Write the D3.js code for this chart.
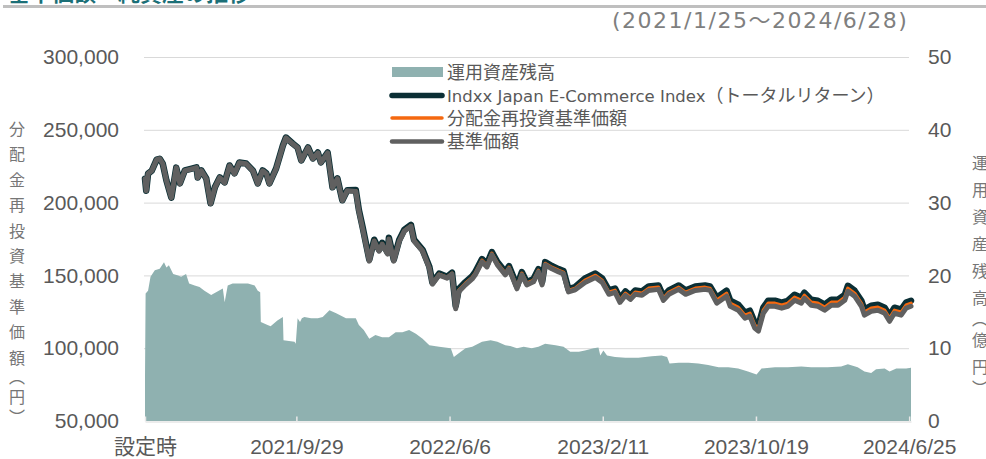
<!DOCTYPE html>
<html>
<head>
<meta charset="utf-8">
<script src="https://cdn.jsdelivr.net/npm/d3@7"></script>
<style>
  html, body { margin: 0; padding: 0; background: #fff; overflow: hidden; }
</style>
</head>
<body>
<div id="chart"></div>
<script>
// ---- data ----
const navDates = [
  "2021-01-25","2021-01-27","2021-01-30","2021-02-05","2021-02-13","2021-02-18","2021-02-23","2021-03-01","2021-03-09","2021-03-17",
  "2021-03-23","2021-03-31","2021-04-13","2021-04-19","2021-04-21","2021-04-27","2021-05-05","2021-05-12","2021-05-19","2021-05-27",
  "2021-06-04","2021-06-12","2021-06-20","2021-06-28","2021-07-09","2021-07-20","2021-07-28","2021-08-05","2021-08-11","2021-08-16",
  "2021-08-27","2021-09-07","2021-09-12","2021-09-23","2021-10-01","2021-10-07","2021-10-18","2021-10-26","2021-11-03","2021-11-08",
  "2021-11-19","2021-11-27","2021-12-05","2021-12-13","2021-12-21","2022-01-04","2022-01-09","2022-01-15","2022-01-26","2022-02-03",
  "2022-02-11","2022-02-16","2022-02-25","2022-02-27","2022-03-07","2022-03-16","2022-03-24","2022-04-04","2022-04-09","2022-04-23",
  "2022-05-04","2022-05-09","2022-05-20","2022-06-02","2022-06-10","2022-06-16","2022-06-21","2022-07-02","2022-07-13","2022-07-18",
  "2022-07-29","2022-08-06","2022-08-14","2022-08-23","2022-09-05","2022-09-11","2022-09-24","2022-10-02","2022-10-10","2022-10-21",
  "2022-10-29","2022-11-04","2022-11-09","2022-11-20","2022-12-01","2022-12-09","2022-12-17","2022-12-28","2023-01-13","2023-01-30",
  "2023-02-10","2023-02-21","2023-03-03","2023-03-11","2023-03-20","2023-03-28","2023-04-05","2023-04-16","2023-04-27","2023-05-13",
  "2023-05-21","2023-05-30","2023-06-15","2023-06-26","2023-07-12","2023-07-28","2023-08-05","2023-08-16","2023-09-01","2023-09-07",
  "2023-09-20","2023-10-01","2023-10-09","2023-10-17","2023-10-23","2023-10-31","2023-11-08","2023-11-19","2023-11-30","2023-12-10",
  "2023-12-21","2024-01-01","2024-01-06","2024-01-17","2024-01-28","2024-02-08","2024-02-19","2024-03-01","2024-03-12","2024-03-17",
  "2024-03-28","2024-04-08","2024-04-13","2024-04-24","2024-05-05","2024-05-16","2024-05-24","2024-06-01","2024-06-12","2024-06-20",
  "2024-06-28"
];

// Indxx Japan E-Commerce Index (total return), yen
const indexValues = [
  216400,208200,219900,221900,229500,230100,226700,215100,203400,224000,
  213200,222100,223500,224200,217300,222100,216600,199500,210500,217300,
  213900,225500,220100,227600,226900,222100,213200,222100,220100,213200,
  223500,239200,244700,240600,237900,229000,237900,230300,234400,227600,
  234400,210500,216600,201600,208400,208700,195000,183400,160800,174500,
  167600,172400,165600,175800,160800,174500,181300,184700,174500,167600,
  156000,145000,151200,149100,151900,129000,140600,145400,149500,152300,
  161200,157700,166000,159100,152300,156400,142700,152300,145400,147500,
  154300,145400,159100,156400,154300,153000,140600,142000,147900,151300,
  147900,139700,141000,134200,139000,136200,139700,139000,142400,143100,
  135500,139700,143100,139700,142400,143100,142400,134700,139500,132600,
  129900,124400,125800,117600,115500,127800,132600,132600,131300,132600,
  136700,134700,138100,133300,132600,129900,133300,133300,136700,142900,
  139500,132600,126500,129200,129900,127800,122300,127800,126500,131300,
  132600
];

// 分配金再投資基準価額, yen
const reinvestValues = [
  216400,208200,219900,221900,229500,230100,226700,215100,203400,224000,
  213000,221900,223300,224000,217100,221900,216400,199300,210300,217100,
  213700,225300,219900,227400,226700,221900,213000,221900,219900,213000,
  223300,239000,244500,240400,237700,228800,237700,230100,234200,227400,
  234200,210300,216400,201400,208200,208200,194500,182900,160300,174000,
  167100,171900,165100,175300,160300,174000,180800,184200,174000,167100,
  155500,144500,150700,148600,151400,128100,139700,144500,148600,151400,
  160300,156800,165100,158200,151400,155500,141800,151400,144500,146600,
  153400,144500,158200,155500,153400,152100,139700,141100,146600,150000,
  146600,138400,139700,132900,137700,134900,138400,137700,141100,141800,
  134200,138400,141800,138400,141100,141800,141100,132900,137700,130800,
  128100,122600,124000,115800,113700,126000,130800,130800,129500,130800,
  134900,132900,136300,131500,130800,128100,131500,131500,134900,141100,
  137700,130800,124700,127400,128100,126000,120500,126000,124700,129500,
  130800
];

// 基準価額, yen
const navValues = [
  216400,208200,219900,221900,229500,230100,226700,215100,203400,224000,
  213000,221900,223300,224000,217100,221900,216400,199300,210300,217100,
  213700,225300,219900,227400,226700,221900,213000,221900,219900,213000,
  223300,239000,244500,240400,237700,228800,237700,230100,234200,227400,
  234200,210300,216400,201400,208200,207700,194000,182400,159800,173500,
  166600,171400,164600,174800,159800,173500,180300,183700,173500,166600,
  155000,144000,150200,148100,150900,127100,138700,143500,147600,150400,
  159300,155800,164100,157200,150400,154500,140800,150400,143500,145600,
  152400,143500,157200,154500,152400,151100,138700,140100,145200,148600,
  145200,137000,138300,131500,136300,133500,137000,136300,139700,140400,
  132800,137000,140400,137000,139700,140400,139700,130900,135700,128800,
  126100,120600,122000,113800,111700,124000,128800,128800,127500,128800,
  132900,130900,134300,129500,128800,126100,129500,129500,132900,139100,
  135700,128800,122700,125400,126100,124000,118500,124000,122700,127500,
  128800
];

// 運用資産残高 (億円)
const aumDates = [
  "2021-01-25","2021-01-26","2021-01-30","2021-02-03","2021-02-10","2021-02-18","2021-02-25","2021-03-01","2021-03-05","2021-03-12",
  "2021-03-20","2021-03-25","2021-04-02","2021-04-07","2021-04-16","2021-04-24","2021-05-02","2021-05-13","2021-05-21","2021-06-01",
  "2021-06-04","2021-06-09","2021-06-17","2021-06-28","2021-07-12","2021-07-23","2021-07-28","2021-08-01","2021-08-02","2021-08-13",
  "2021-08-18","2021-08-29","2021-09-07","2021-09-08","2021-09-26","2021-09-28","2021-10-01","2021-10-05","2021-10-08","2021-10-12",
  "2021-10-23","2021-11-03","2021-11-11","2021-11-22","2021-12-03","2021-12-19","2022-01-04","2022-01-09","2022-01-17","2022-01-26",
  "2022-02-05","2022-02-16","2022-02-27","2022-03-10","2022-03-21","2022-04-01","2022-04-12","2022-04-23","2022-05-04","2022-05-20",
  "2022-06-08","2022-06-13","2022-06-21","2022-07-02","2022-07-13","2022-07-29","2022-08-12","2022-08-23","2022-09-05","2022-09-13",
  "2022-09-24","2022-10-05","2022-10-18","2022-10-29","2022-11-09","2022-11-26","2022-12-09","2022-12-20","2023-01-03","2023-01-13",
  "2023-01-27","2023-02-04","2023-02-07","2023-02-12","2023-02-18","2023-03-03","2023-03-20","2023-04-10","2023-05-02","2023-05-18",
  "2023-05-27","2023-05-31","2023-06-15","2023-07-01","2023-07-17","2023-08-02","2023-08-19","2023-09-04","2023-09-20","2023-10-06",
  "2023-10-20","2023-10-28","2023-11-19","2023-12-10","2024-01-01","2024-01-17","2024-02-13","2024-03-06","2024-03-17","2024-04-02",
  "2024-04-13","2024-04-24","2024-05-02","2024-05-16","2024-05-24","2024-06-04","2024-06-20","2024-06-28"
];
const aumValues = [
  6.1,17.5,17.9,19.8,20.7,20.9,21.8,21.1,21.4,20.2,
  20.0,19.8,20.2,18.9,18.6,18.4,17.9,17.3,17.7,18.2,
  16.3,18.6,18.9,18.9,18.9,18.6,17.9,17.7,13.6,13.2,
  13.0,13.8,14.3,11.1,10.9,10.6,14.1,13.6,14.1,14.3,
  14.1,14.1,14.3,15.2,14.8,14.1,14.1,13.2,12.5,11.3,
  11.8,11.5,11.5,12.2,12.2,12.5,12.0,11.3,10.4,10.2,
  10.0,8.8,9.3,10.0,10.2,10.9,11.1,10.9,10.4,10.3,
  10.0,10.2,10.0,10.2,10.6,10.4,10.2,9.5,9.5,9.7,
  10.0,10.1,9.0,9.7,9.0,8.8,8.7,8.7,8.9,9.0,
  8.8,7.9,8.0,8.0,7.9,7.7,7.4,7.4,7.2,6.8,
  6.4,7.2,7.4,7.4,7.5,7.4,7.4,7.5,7.8,7.4,
  6.8,6.6,7.1,7.2,6.8,7.2,7.2,7.3
];

const leftTicks = [50000, 100000, 150000, 200000, 250000, 300000];
const rightTicks = [0, 10, 20, 30, 40, 50];
const xTickDates = ["2021-01-25", "2021-09-29", "2022-06-06", "2023-02-11", "2023-10-19", "2024-06-25"];
const xTickLabels = ["設定時", "2021/9/29", "2022/6/6", "2023/2/11", "2023/10/19", "2024/6/25"];
const legendLabels = ["運用資産残高", "Indxx Japan E-Commerce Index（トータルリターン）", "分配金再投資基準価額", "基準価額"];
const titleText = "基準価額・純資産の推移";
const periodText = "(2021/1/25～2024/6/28)";
const leftTitle = "分配金再投資基準価額︵円︶";
const rightTitle = "運用資産残高︵億円︶";

// ---- frame ----
const width = 986, height = 459,
  plot = { left: 145, right: 911, top: 57, bottom: 421 },
  colors = { aum: "#8fb1b0", index: "#0b2f35", reinvest: "#f5680f", nav: "#606060", grid: "#d9d9d9", text: "#595959" },
  jpFont = "'Noto Sans CJK JP', sans-serif",
  numFont = "'Liberation Sans', 'Noto Sans CJK JP', sans-serif",
  latinFont = "'DejaVu Sans', 'Noto Sans CJK JP', sans-serif";

const parseDate = d3.timeParse("%Y-%m-%d");

const x = d3.scaleTime()
  .domain([parseDate("2021-01-25"), parseDate("2024-06-28")])
  .range([plot.left, plot.right]);
const yLeft = d3.scaleLinear().domain([50000, 300000]).range([plot.bottom, plot.top]);
const yRight = d3.scaleLinear().domain([0, 50]).range([plot.bottom, plot.top]);

const navRows = navDates.map((d, i) => ({
  date: parseDate(d), index: indexValues[i], reinvest: reinvestValues[i], nav: navValues[i]
}));
const aumRows = aumDates.map((d, i) => ({ date: parseDate(d), value: aumValues[i] }));

const svg = d3.select("#chart").append("svg")
  .attr("width", width)
  .attr("height", height)
  .style("display", "block")
  .style("background", "#fff");

// title strip (cut at top)
svg.append("text")
  .attr("x", 8).attr("y", 1)
  .attr("font-family", jpFont).attr("font-size", 22).attr("font-weight", 700)
  .attr("fill", "#1b6f77")
  .text(titleText);
svg.append("rect")
  .attr("x", 3).attr("y", 5).attr("width", width - 3).attr("height", 3)
  .attr("fill", "#bfbfbf");
svg.append("text")
  .attr("x", 612).attr("y", 28)
  .attr("font-family", latinFont).attr("font-size", 22)
  .attr("letter-spacing", 1.5)
  .attr("fill", "#7f7f7f")
  .text(periodText);

// gridlines
svg.append("g")
  .attr("transform", `translate(${plot.left - 1},0)`)
  .call(d3.axisLeft(yLeft).tickValues(leftTicks.slice(1)).tickSize(-(plot.right - plot.left - 1)).tickFormat(""))
  .call(g => g.select(".domain").remove())
  .call(g => g.selectAll("line").attr("stroke", colors.grid));

// AUM area (right axis)
svg.append("path")
  .datum(aumRows)
  .attr("fill", colors.aum)
  .attr("d", d3.area().x(d => x(d.date)).y0(yRight(0)).y1(d => yRight(d.value)));

// lines (left axis)
const series = [
  { key: "index", color: colors.index, w: 6.5, legendW: 5.5 },
  { key: "reinvest", color: colors.reinvest, w: 3.5, legendW: 3.5 },
  { key: "nav", color: colors.nav, w: 5, legendW: 4.5 }
];
series.forEach(s => {
  svg.append("path")
    .datum(navRows)
    .attr("fill", "none")
    .attr("stroke", s.color)
    .attr("stroke-width", s.w)
    .attr("stroke-linejoin", "round")
    .attr("stroke-linecap", "round")
    .attr("d", d3.line().x(d => x(d.date)).y(d => yLeft(d[s.key])));
});

// x axis
svg.append("g")
  .attr("transform", `translate(0,${plot.bottom + 0.5})`)
  .call(d3.axisBottom(x)
    .tickValues(xTickDates.map(parseDate))
    .tickFormat((d, i) => xTickLabels[i])
    .tickSizeInner(-5).tickSizeOuter(0).tickPadding(18))
  .call(g => g.select(".domain").attr("stroke", colors.grid))
  .call(g => g.selectAll(".tick line").attr("stroke", "#e8e8e8").attr("stroke-width", 1.5))
  .call(g => g.selectAll("text").attr("font-family", numFont).attr("font-size", 21).attr("fill", colors.text));

// left axis labels
svg.append("g")
  .attr("transform", `translate(${plot.left - 1},0)`)
  .call(d3.axisLeft(yLeft).tickValues(leftTicks).tickFormat(d3.format(",")).tickSize(0).tickPadding(25))
  .call(g => g.select(".domain").remove())
  .call(g => g.selectAll("text").attr("font-family", numFont).attr("font-size", 21).attr("fill", colors.text));

// right axis labels
svg.append("g")
  .attr("transform", `translate(${plot.right - 2},0)`)
  .call(d3.axisRight(yRight).tickValues(rightTicks).tickSize(0).tickPadding(19))
  .call(g => g.select(".domain").remove())
  .call(g => g.selectAll("text").attr("font-family", numFont).attr("font-size", 21).attr("fill", colors.text));

// vertical axis titles, one glyph per row
function verticalTitle(str, cx, startY, step) {
  const chars = Array.from(str);
  const isParen = c => c === "︵" || c === "︶";
  let y = startY;
  chars.forEach((ch, i) => {
    if (i > 0) y += (isParen(ch) || isParen(chars[i - 1])) ? step * 0.78 : step;
    svg.append("text")
      .attr("x", cx).attr("y", y)
      .attr("text-anchor", "middle")
      .attr("dominant-baseline", "central")
      .attr("font-family", jpFont).attr("font-size", 16)
      .attr("fill", "#767676")
      .text(ch);
  });
}
verticalTitle(leftTitle, 17, 128, 25.4);
verticalTitle(rightTitle, 980, 162, 27);

// legend
const legend = svg.append("g").attr("transform", "translate(390,0)");
const rowY = [72, 95.5, 118, 141.5];
legend.append("rect")
  .attr("x", 2).attr("y", rowY[0] - 5).attr("width", 51).attr("height", 10)
  .attr("fill", colors.aum);
series.forEach((s, i) => {
  legend.append("line")
    .attr("x1", 2).attr("x2", 52)
    .attr("y1", rowY[i + 1]).attr("y2", rowY[i + 1])
    .attr("stroke", s.color)
    .attr("stroke-width", s.legendW)
    .attr("stroke-linecap", "round");
});
legendLabels.forEach((label, i) => {
  const t = legend.append("text")
    .attr("x", 57).attr("y", rowY[i] + 6.5)
    .attr("fill", colors.text);
  // split ascii / japanese runs so each gets its own size
  label.match(/[\x00-\x7F]+|[^\x00-\x7F]+/g).forEach(run => {
    const ascii = /^[\x00-\x7F]+$/.test(run);
    t.append("tspan")
      .attr("font-family", ascii ? latinFont : jpFont)
      .attr("font-size", ascii ? 16.5 : 18)
      .text(run);
  });
});
</script>
</body>
</html>
